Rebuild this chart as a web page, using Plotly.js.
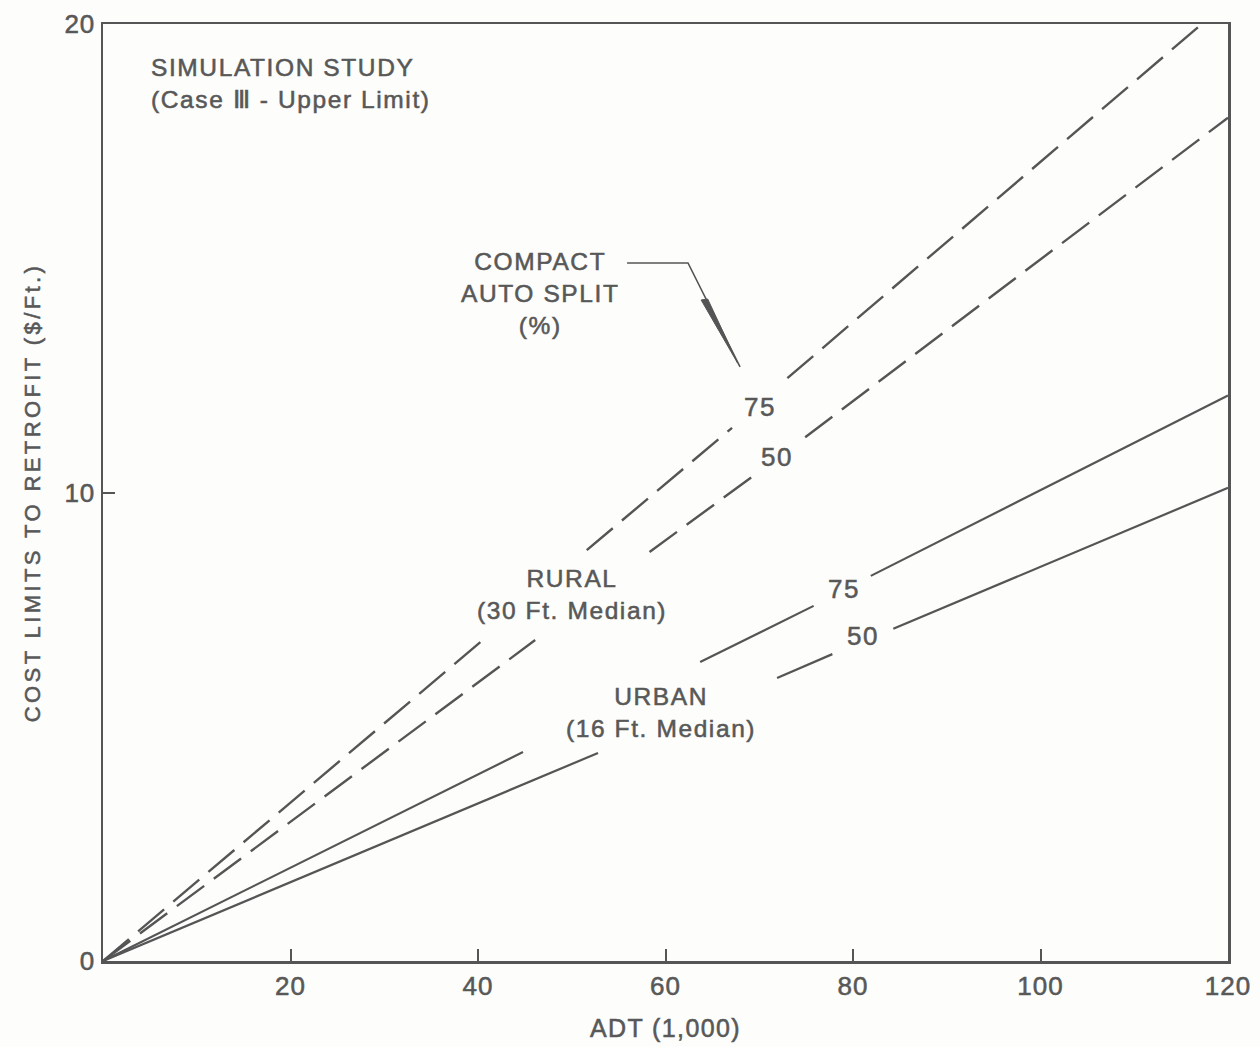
<!DOCTYPE html>
<html><head><meta charset="utf-8">
<script src="https://cdn.plot.ly/plotly-3.0.1.min.js"></script>
<style>
html,body{margin:0;padding:0;background:#fdfdfb;}
#chart{width:1260px;height:1047px;}
.main-svg text{stroke:#585858;stroke-width:0.55px;}
text.annotation-text{letter-spacing:1.6px;}
.xtick text,.ytick text{letter-spacing:1px;}
text.xtitle{letter-spacing:1.4px;}
text.ytitle{letter-spacing:3.4px;}
</style></head><body><div id="chart"></div>
<script>
// Axis ticks
const adtTicks = [20, 40, 60, 80, 100, 120];
const costTicks = [0, 10, 20];

// Series (ADT in 1,000 vs cost limit $/ft); null = break where the line is interrupted by labels
const rural75X = [0, 40.4, null, 51.6, 67.1, null, 73.0, 117.2];
const rural75Y = [0, 6.83, null, 8.77, 11.38, null, 12.44, 20.0];
const rural50X = [0, 46.1, null, 58.3, 69.2, null, 74.9, 120];
const rural50Y = [0, 6.85, null, 8.73, 10.33, null, 11.18, 18.0];
const urban75X = [0, 44.8, null, 63.7, 75.8, null, 81.9, 120];
const urban75Y = [0, 4.46, null, 6.38, 7.58, null, 8.22, 12.07];
const urban50X = [0, 52.8, null, 71.9, 77.8, null, 84.3, 120];
const urban50Y = [0, 4.44, null, 6.04, 6.55, null, 7.09, 10.1];

const ink = '#555555';
const txt = '#585858';
const FONT = 'Liberation Sans, Arial, Helvetica, sans-serif';

const dashed = {color: ink, width: 2.4, dash: '34px,12px'};
const solid = {color: ink, width: 2.2};

const traces = [
  {x: rural75X, y: rural75Y, mode: 'lines', line: dashed, name: 'Rural 75%', hoverinfo: 'skip'},
  {x: rural50X, y: rural50Y, mode: 'lines', line: dashed, name: 'Rural 50%', hoverinfo: 'skip'},
  {x: urban75X, y: urban75Y, mode: 'lines', line: solid, name: 'Urban 75%', hoverinfo: 'skip'},
  {x: urban50X, y: urban50Y, mode: 'lines', line: solid, name: 'Urban 50%', hoverinfo: 'skip'}
];

function ann(text, x, y, size, opts) {
  return Object.assign({text: text, x: x, y: y, xref: 'x', yref: 'y', showarrow: false,
    font: {family: FONT, size: size, color: txt}, xanchor: 'center', yanchor: 'middle', align: 'center'}, opts || {});
}

const annotations = [
  ann('SIMULATION STUDY<br>(Case Ⅲ - Upper Limit)', 4.95, 18.72, 24.5, {xanchor: 'left', align: 'left'}),
  ann('COMPACT<br>AUTO SPLIT<br>(%)', 46.7, 14.24, 24.5),
  ann('75', 70.1, 11.82, 26),
  ann('50', 71.9, 10.76, 26),
  ann('RURAL<br>(30 Ft. Median)', 50.0, 7.83, 24.5),
  ann('75', 79.0, 7.94, 26),
  ann('50', 81.1, 6.94, 26),
  ann('URBAN<br>(16 Ft. Median)', 59.5, 5.31, 24.5)
];

const shapes = [
  {type: 'path', xref: 'x', yref: 'y', path: 'M55.9,14.9 L62.4,14.9 L67.95,12.68',
   line: {color: ink, width: 1.6}},
  {type: 'path', xref: 'x', yref: 'y', path: 'M63.8,14.11 L64.5,14.13 L67.7,12.76 Z',
   fillcolor: ink, line: {color: ink, width: 1}}
];

const axisCommon = {
  showline: true, linecolor: ink, linewidth: 2.5, mirror: true,
  ticks: 'inside', ticklen: 12, tickwidth: 2, tickcolor: ink,
  showgrid: false, zeroline: false, fixedrange: true,
  tickfont: {family: FONT, size: 26, color: txt}
};

const layout = {
  width: 1260, height: 1047,
  margin: {l: 103, r: 32, t: 24, b: 86},
  paper_bgcolor: '#fdfdfb', plot_bgcolor: '#fdfdfb',
  showlegend: false,
  font: {family: FONT, color: txt},
  xaxis: Object.assign({}, axisCommon, {
    range: [0, 120], tickvals: adtTicks, ticktext: adtTicks.map(String),
    title: {text: 'ADT (1,000)', font: {family: FONT, size: 25, color: txt}, standoff: 20}
  }),
  yaxis: Object.assign({}, axisCommon, {
    range: [0, 20], tickvals: costTicks, ticktext: costTicks.map(String),
    title: {text: 'COST LIMITS TO RETROFIT ($/Ft.)', font: {family: FONT, size: 22, color: txt}, standoff: 18}
  }),
  annotations: annotations,
  shapes: shapes
};

Plotly.newPlot('chart', traces, layout, {staticPlot: true, displayModeBar: false});
</script></body></html>
